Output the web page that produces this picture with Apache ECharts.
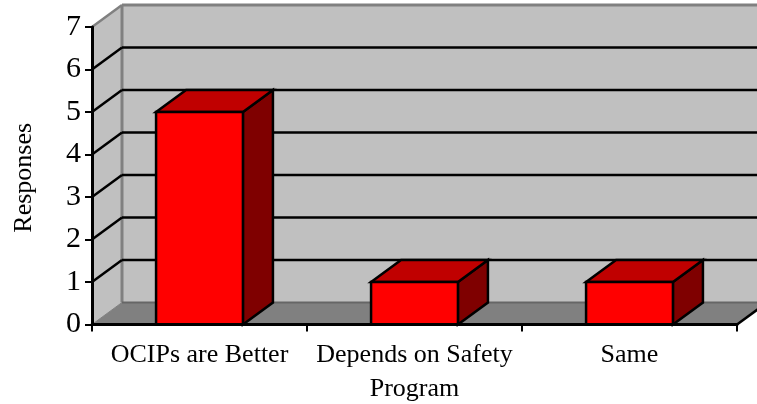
<!DOCTYPE html>
<html>
<head>
<meta charset="utf-8">
<style>html,body{margin:0;padding:0;background:#fff}#chart{width:757px;height:404px}</style>
<script src="https://cdn.jsdelivr.net/npm/echarts@6/dist/echarts.min.js"></script>
</head>
<body>
<div id="chart"></div>
<script>
// Survey responses, drawn as a 3D-look column chart
const categories = ['OCIPs are Better', 'Depends on Safety\nProgram', 'Same'];
const responses = [5, 1, 1];
const yTicks = [0, 1, 2, 3, 4, 5, 6, 7];
const yMax = 7;

// Depth of the extruded box, in screen pixels
const DX = 30, DY = -22;
const WALL = '#c0c0c0', FLOOR = '#808080', EDGE = '#808080';
const FRONT = '#ff0000', TOP = '#c00000', SIDE = '#7f0000';

const poly = (points, fill, stroke, lineWidth) => ({
  type: 'polygon',
  shape: { points },
  style: { fill, stroke: stroke || null, lineWidth: lineWidth || 0, lineJoin: 'miter' }
});
const seg = (a, b, stroke, lineWidth) => ({
  type: 'line',
  shape: { x1: a[0], y1: a[1], x2: b[0], y2: b[1] },
  style: { stroke, lineWidth }
});

function renderWalls(params, api) {
  const c = params.coordSys;
  const l = c.x, r = c.x + c.width, t = c.y, b = c.y + c.height;
  const children = [
    poly([[l + DX, t + DY], [r + DX, t + DY], [r + DX, b + DY], [l + DX, b + DY]], WALL),
    poly([[l, t], [l + DX, t + DY], [l + DX, b + DY], [l, b]], WALL),
    poly([[l, b], [l + DX, b + DY], [r + DX, b + DY], [r, b]], FLOOR),
    seg([l, t], [l + DX, t + DY], EDGE, 2.5),
    seg([l + DX, t + DY], [r + DX, t + DY], EDGE, 3),
    seg([l + DX, t + DY], [l + DX, b + DY], EDGE, 3),
    seg([l + DX, b + DY], [r + DX, b + DY], '#666666', 2),
    seg([l, b], [l + DX, b + DY], EDGE, 1),
    seg([r, b], [r + DX, b + DY], '#000000', 2.5)
  ];
  yTicks.filter(v => v > 0 && v < yMax).forEach(v => {
    const y = api.coord([0, v])[1];
    children.push(seg([l, y], [l + DX, y + DY], '#000000', 2.5));
    children.push(seg([l + DX, y + DY], [r + DX, y + DY], '#000000', 2.5));
  });
  return { type: 'group', children };
}

function renderBar(params, api) {
  const base = api.coord([api.value(0), 0]);
  const head = api.coord([api.value(0), api.value(1)]);
  const w = api.size([1, 0])[0] * 0.404;
  const l = base[0] - w / 2, r = base[0] + w / 2, t = head[1], b = base[1];
  return {
    type: 'group',
    children: [
      poly([[r, t], [r + DX, t + DY], [r + DX, b + DY], [r, b]], SIDE, '#000', 2.5),
      poly([[l, t], [l + DX, t + DY], [r + DX, t + DY], [r, t]], TOP, '#000', 2.5),
      poly([[l, t], [r, t], [r, b], [l, b]], FRONT, '#000', 2.5)
    ]
  };
}

const serif = '"Liberation Serif", "Times New Roman", serif';
const chart = echarts.init(document.getElementById('chart'), null, { renderer: 'canvas' });
chart.setOption({
  animation: false,
  backgroundColor: '#ffffff',
  grid: { left: 92, right: 20, top: 27, bottom: 79.5, outerBoundsMode: 'none' },
  xAxis: {
    type: 'category',
    data: categories,
    z: 10,
    axisLine: { onZero: false, lineStyle: { color: '#000', width: 3 } },
    axisTick: { show: true, alignWithLabel: false, length: 7, lineStyle: { color: '#000', width: 2 } },
    axisLabel: { interval: 0, color: '#000', fontFamily: serif, fontSize: 26, lineHeight: 34, margin: 14 }
  },
  yAxis: {
    type: 'value',
    min: 0,
    max: yMax,
    interval: 1,
    name: 'Responses',
    nameLocation: 'middle',
    nameRotate: 90,
    nameGap: 55,
    nameTextStyle: { color: '#000', fontFamily: serif, fontSize: 26, padding: [0, 4, 0, 0] },
    z: 10,
    axisLine: { show: true, lineStyle: { color: '#000', width: 3 } },
    axisTick: { show: true, length: 7, lineStyle: { color: '#000', width: 2 } },
    axisLabel: { color: '#000', fontFamily: serif, fontSize: 30, margin: 11 },
    splitLine: { show: false }
  },
  series: [
    { type: 'custom', data: [[0, 0]], renderItem: renderWalls, z: 1, silent: true, clip: false },
    {
      type: 'custom',
      data: categories.map((c, i) => [i, responses[i]]),
      encode: { x: 0, y: 1 },
      renderItem: renderBar,
      z: 2,
      clip: false
    }
  ]
});
</script>
</body>
</html>
